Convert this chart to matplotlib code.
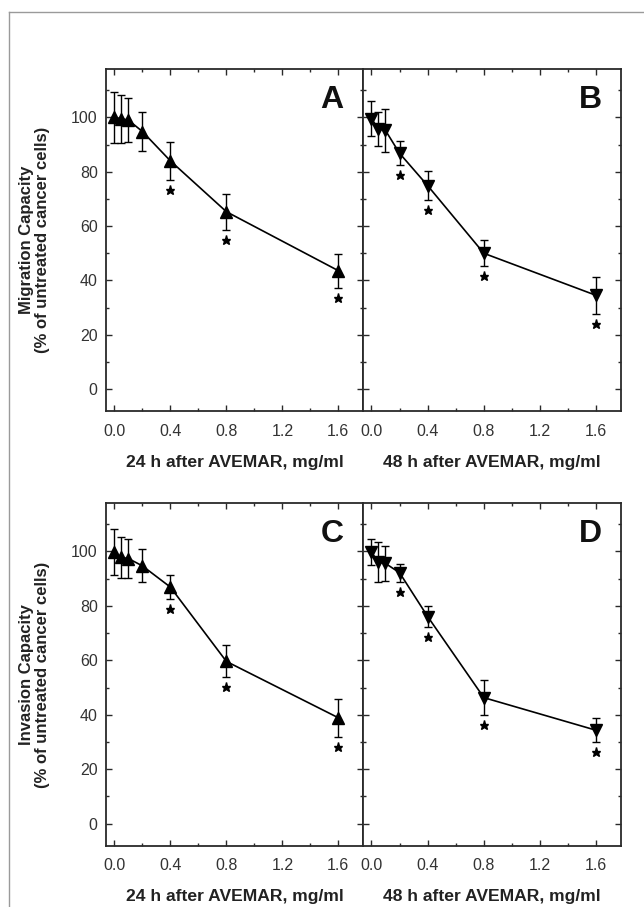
import matplotlib
matplotlib.use("Agg")
import matplotlib.pyplot as plt
from matplotlib.lines import Line2D
from matplotlib.ticker import MultipleLocator
from matplotlib.transforms import ScaledTranslation

plt.rcParams['font.family'] = ['Liberation Sans', 'DejaVu Sans']

# ---- data ----
dose = [0.0, 0.05, 0.1, 0.2, 0.4, 0.8, 1.6]

mig24_mean = [100, 99.5, 99.0, 94.8, 84.0, 65.3, 43.6]
mig24_err = [9.3, 8.8, 8.0, 7.3, 6.9, 6.6, 6.2]
mig24_sig = [0, 0, 0, 0, 1, 1, 1]

mig48_mean = [99.5, 95.8, 95.2, 86.8, 74.9, 50.0, 34.5]
mig48_err = [6.5, 6.2, 8.0, 4.5, 5.2, 4.8, 6.8]
mig48_sig = [0, 0, 0, 1, 1, 1, 1]

inv24_mean = [99.8, 97.8, 97.4, 94.7, 86.9, 59.6, 38.9]
inv24_err = [8.5, 7.5, 7.2, 6.1, 4.4, 5.9, 6.9]
inv24_sig = [0, 0, 0, 0, 1, 1, 1]

inv48_mean = [99.8, 96.0, 95.6, 92.2, 76.1, 46.3, 34.3]
inv48_err = [4.8, 7.3, 6.4, 3.3, 3.7, 6.3, 4.4]
inv48_sig = [0, 0, 0, 1, 1, 1, 1]

panel_letters = ['A', 'B', 'C', 'D']
xlabels = ['24 h after AVEMAR, mg/ml', '48 h after AVEMAR, mg/ml']
ylabels = ['Migration Capacity\n(% of untreated cancer cells)',
           'Invasion Capacity\n(% of untreated cancer cells)']
xticks = [0.0, 0.4, 0.8, 1.2, 1.6]
yticks = [0, 20, 40, 60, 80, 100]

# ---- figure ----
W, H = 644, 907
fig = plt.figure(figsize=(W / 100, H / 100), dpi=100)

# outer frame lines (left and top)
fig.add_artist(Line2D([9 / W, 9 / W], [0, 1 - 12 / H], transform=fig.transFigure,
                      color='#9a9a9a', lw=1.0))
fig.add_artist(Line2D([9 / W, 1], [1 - 12 / H, 1 - 12 / H], transform=fig.transFigure,
                      color='#9a9a9a', lw=1.0))

def px_axes(l, r, t, b):
    return fig.add_axes([l / W, 1 - b / H, (r - l) / W, (b - t) / H])

axA = px_axes(106, 363, 69, 411.5)
axB = px_axes(363, 621, 69, 411.5)
axC = px_axes(106, 363, 503, 846)
axD = px_axes(363, 621, 503, 846)

panels = [
    (axA, mig24_mean, mig24_err, mig24_sig, '^', 0, 0),
    (axB, mig48_mean, mig48_err, mig48_sig, 'v', 1, 0),
    (axC, inv24_mean, inv24_err, inv24_sig, '^', 0, 1),
    (axD, inv48_mean, inv48_err, inv48_sig, 'v', 1, 1),
]

spine_col = '#2a2a2a'
text_col = '#333333'
star_off = ScaledTranslation(0, -10 / 100, fig.dpi_scale_trans)

for i, (ax, m, e, sig, mk, col, row) in enumerate(panels):
    ax.errorbar(dose, m, yerr=e, fmt='-', color='black', lw=1.2,
                marker=mk, markersize=8.5, mfc='black', mec='black',
                ecolor='black', elinewidth=1.0, capsize=3.0, capthick=1.0,
                zorder=3)
    sx = [d for d, s in zip(dose, sig) if s]
    sy = [mm - ee for mm, ee, s in zip(m, e, sig) if s]
    ax.plot(sx, sy, linestyle='none', marker='*', markersize=6.5,
            color='black', transform=ax.transData + star_off, clip_on=False)

    ax.set_xlim(-0.06, 1.776)
    ax.set_ylim(-8.2, 117.8)
    ax.set_xticks(xticks)
    ax.xaxis.set_minor_locator(MultipleLocator(0.2))
    ax.set_yticks(yticks)
    ax.yaxis.set_minor_locator(MultipleLocator(10))
    ax.tick_params(which='both', direction='in', top=True, right=True,
                   color=spine_col, width=1.0, labelcolor=text_col,
                   labelsize=11.5)
    ax.tick_params(which='major', length=4.5)
    ax.tick_params(which='minor', length=2.5)
    ax.tick_params(axis='x', which='major', pad=9)
    ax.tick_params(axis='y', which='major', pad=6)
    ax.set_xticklabels(['%.1f' % t for t in xticks])
    for s in ax.spines.values():
        s.set_color(spine_col)
        s.set_linewidth(1.3)
    if col == 1:
        ax.set_yticklabels([])
    else:
        ax.set_ylabel(ylabels[row], fontsize=12, fontweight='bold',
                      color='#222222', labelpad=15, linespacing=1.1)
    ax.set_xlabel(xlabels[col], fontsize=12.6, fontweight='bold',
                  color='#222222', labelpad=11.5)
    ax.text(0.925, 0.952, panel_letters[i], transform=ax.transAxes,
            ha='right', va='top', fontsize=23, fontweight='bold', color='#111111')

fig.savefig('out.png', dpi=100)
